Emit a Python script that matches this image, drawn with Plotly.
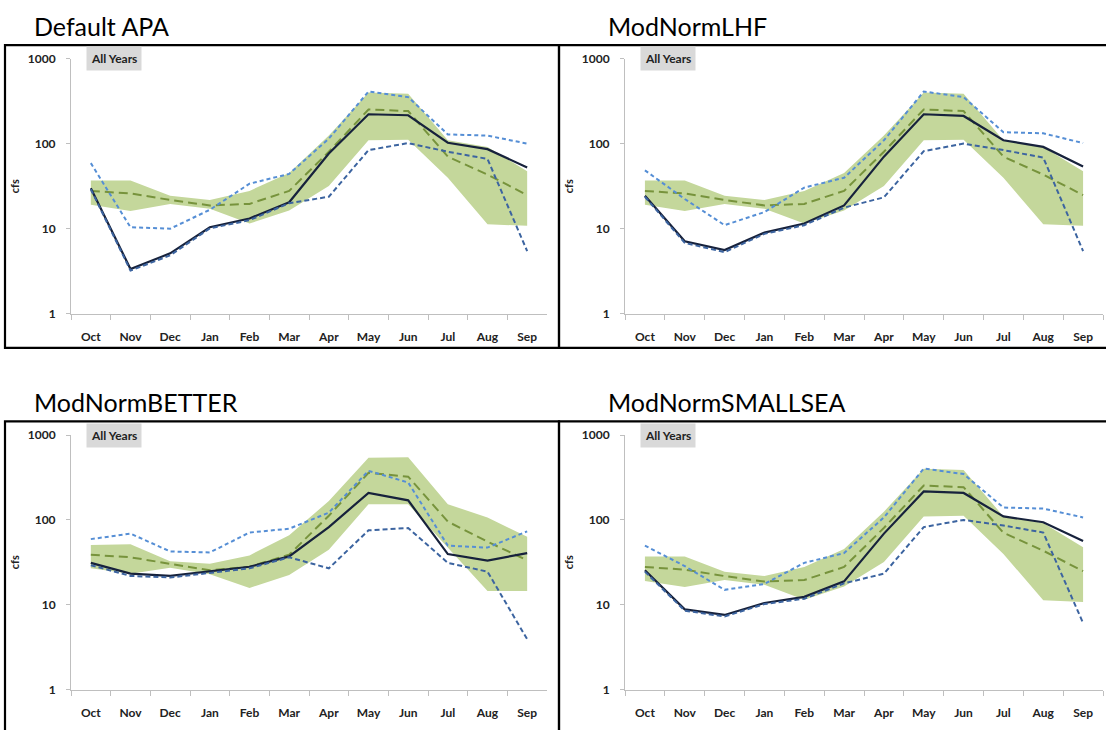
import plotly.graph_objects as go

W, H = 1106, 730

months = ["Oct", "Nov", "Dec", "Jan", "Feb", "Mar", "Apr", "May", "Jun", "Jul", "Aug", "Sep"]
panel_titles = ["Default APA", "ModNormLHF", "ModNormBETTER", "ModNormSMALLSEA"]
box_label = "All Years"
y_title = "cfs"
y_tick_vals = [1, 10, 100, 1000]
y_tick_text = ["1", "10", "100", "1000"]

# observed range / median (shared by APA, LHF, SMALLSEA panels)
obs_hi = [37, 37, 24.5, 21.8, 27.9, 45.4, 125, 402, 388, 110, 92, 47.5]
obs_lo = [19.1, 16.2, 19.6, 17.2, 11.5, 16.4, 31.9, 110, 112, 39.8, 11.3, 10.8]
obs_med = [27.9, 26, 21.8, 18.8, 19.6, 27.9, 80.6, 254, 243, 70.6, 43.4, 24.9]

# observed range / median for BETTER panel
better_obs_hi = [50.7, 51.6, 32.6, 30.4, 38.2, 66, 167, 539, 549, 153, 107, 63.2]
better_obs_lo = [26.9, 23.3, 27.3, 22.9, 15.8, 22.5, 44.4, 153, 153, 46.4, 14.5, 14.5]
better_obs_med = [38.9, 36.3, 30.4, 25.5, 28.1, 38.9, 112, 359, 323, 95.6, 55.4, 33.5]

# simulated series
apa_med = [30, 3.35, 5.12, 10.4, 13.2, 20.5, 77, 223, 217, 103, 86.5, 52.7]
apa_hi = [59.2, 10.4, 10.0, 16.7, 33.9, 44.2, 115, 413, 355, 129, 125, 100.5]
apa_lo = [29.2, 3.21, 4.86, 10.1, 12.6, 20, 23.8, 84.3, 102, 80.6, 66.4, 5.45]

lhf_med = [24.5, 7.1, 5.6, 9.0, 11.5, 18.8, 70.6, 223, 213, 110, 92, 54.2]
lhf_hi = [48.7, 22.4, 11.0, 15.7, 30.5, 39.8, 110, 413, 355, 137, 133, 102]
lhf_lo = [23.8, 6.8, 5.3, 8.7, 11.0, 17.7, 23.4, 82, 100.5, 84.3, 68.8, 5.45]

better_med = [31.2, 23.3, 21.9, 25.0, 28.1, 37.2, 82.4, 208, 170, 39.6, 33.2, 40.7]
better_hi = [59.4, 69, 42.5, 41.4, 71, 78.8, 122, 379, 276, 49.8, 47.2, 73.4]
better_lo = [29.3, 21.9, 21, 23.9, 26.9, 36.3, 26.9, 75.4, 80.2, 31.2, 24.6, 3.93]

ss_med = [25.5, 8.84, 7.6, 10.5, 12.4, 18.9, 69, 217, 208, 110, 94, 56.4]
ss_hi = [49.8, 28.6, 15.0, 17.6, 31.2, 40.7, 107, 403, 347, 140, 136, 107]
ss_lo = [24.6, 8.54, 7.28, 10.2, 11.8, 17.9, 23.3, 82.4, 100, 86, 71, 6.1]

panels = [
    (obs_lo, obs_hi, obs_med, apa_med, apa_hi, apa_lo),
    (obs_lo, obs_hi, obs_med, lhf_med, lhf_hi, lhf_lo),
    (better_obs_lo, better_obs_hi, better_obs_med, better_med, better_hi, better_lo),
    (obs_lo, obs_hi, obs_med, ss_med, ss_hi, ss_lo),
]

# layout in pixels
ax_x = [(71, 547), (625, 1103), (71, 547), (625, 1103)]
ax_y = [(52, 312), (52, 312), (436, 696), (436, 696)]
borders = [(5, 38, 559, 347), (559, 38, 1110, 347), (5, 422, 559, 740), (559, 422, 1110, 740)]
title_pos = [(32, 18), (606, 18), (32, 402), (606, 402)]

def px(x):
    return x / W

def py(y):
    return 1 - y / H

BAND = "rgb(196,215,155)"
GREEN = "rgb(119,147,60)"
NAVY = "rgb(23,34,60)"
LBLUE = "rgb(85,142,213)"
MBLUE = "rgb(60,100,160)"
AXC = "#BFBFBF"
FONT = "Lato"

fig = go.Figure()
for i, (lo, hi, med, smed, shi, slo) in enumerate(panels):
    n = i + 1
    xa = "x" if n == 1 else f"x{n}"
    ya = "y" if n == 1 else f"y{n}"
    fig.add_trace(go.Scatter(x=months, y=lo, mode="lines", line=dict(width=0, color=BAND),
                             xaxis=xa, yaxis=ya, showlegend=False, hoverinfo="skip"))
    fig.add_trace(go.Scatter(x=months, y=hi, mode="lines", line=dict(width=0, color=BAND),
                             fill="tonexty", fillcolor=BAND, xaxis=xa, yaxis=ya, showlegend=False))
    fig.add_trace(go.Scatter(x=months, y=med, mode="lines", line=dict(width=2, color=GREEN, dash="9px,5px"),
                             xaxis=xa, yaxis=ya, showlegend=False))
    fig.add_trace(go.Scatter(x=months, y=smed, mode="lines", line=dict(width=2.2, color=NAVY),
                             xaxis=xa, yaxis=ya, showlegend=False))
    fig.add_trace(go.Scatter(x=months, y=slo, mode="lines", line=dict(width=2, color=MBLUE, dash="5px,3px"),
                             xaxis=xa, yaxis=ya, showlegend=False))
    fig.add_trace(go.Scatter(x=months, y=shi, mode="lines", line=dict(width=2, color=LBLUE, dash="4px,3px"),
                             xaxis=xa, yaxis=ya, showlegend=False))

    x0, x1 = ax_x[i]
    y0, y1 = ax_y[i]
    xkey = "xaxis" if n == 1 else f"xaxis{n}"
    ykey = "yaxis" if n == 1 else f"yaxis{n}"
    fig.layout[xkey] = dict(
        domain=[px(x0), px(x1)], anchor=ya, type="category", range=[-0.5, 11.5],
        showline=True, linecolor=AXC, linewidth=1, ticks="outside", tickson="boundaries",
        ticklen=5, tickcolor=AXC, showgrid=False, zeroline=False, fixedrange=True,
        tickfont=dict(family=FONT, size=12, color="#222", weight="bold"), ticklabelstandoff=12,
    )
    fig.layout[ykey] = dict(
        domain=[py(y1), py(y0)], anchor=xa, type="log", range=[0, 3],
        showline=True, linecolor=AXC, linewidth=1, ticks="outside", ticklen=4, tickcolor=AXC,
        tickvals=y_tick_vals, ticktext=y_tick_text, showgrid=False, zeroline=False, fixedrange=True,
        tickfont=dict(family=FONT, size=12, color="#222", weight="bold"), ticklabelstandoff=8,
    )

    bx0, by0, bx1, by1 = borders[i]
    fig.add_shape(type="rect", xref="paper", yref="paper", x0=px(bx0), x1=px(bx1),
                  y0=py(by1), y1=py(by0), line=dict(color="black", width=2.2), fillcolor="rgba(0,0,0,0)",
                  layer="above")

    tx, ty = title_pos[i]
    fig.add_annotation(x=px(tx), y=py(ty), xref="paper", yref="paper", xanchor="left", yanchor="middle",
                       text=panel_titles[i], showarrow=False,
                       font=dict(family=FONT, size=25, color="black"))
    fig.add_annotation(x=px(x0 + 15), y=py(y0), xref="paper", yref="paper", xanchor="left", yanchor="middle",
                       text=box_label, showarrow=False, bgcolor="#D9D9D9", borderpad=4,
                       font=dict(family=FONT, size=12, color="#222", weight="bold"))
    fig.add_annotation(x=px(bx0 + 9), y=py((y0 + y1) / 2), xref="paper", yref="paper",
                       xanchor="center", yanchor="middle", text=y_title, textangle=-90, showarrow=False,
                       font=dict(family=FONT, size=11, color="#222", weight="bold"))

fig.update_layout(width=W, height=H, margin=dict(l=0, r=0, t=0, b=0),
                  paper_bgcolor="white", plot_bgcolor="white", showlegend=False)

fig.write_html("out.html", config={"displayModeBar": False},
               post_script="document.body.style.margin='0';document.body.style.overflow='hidden';")
